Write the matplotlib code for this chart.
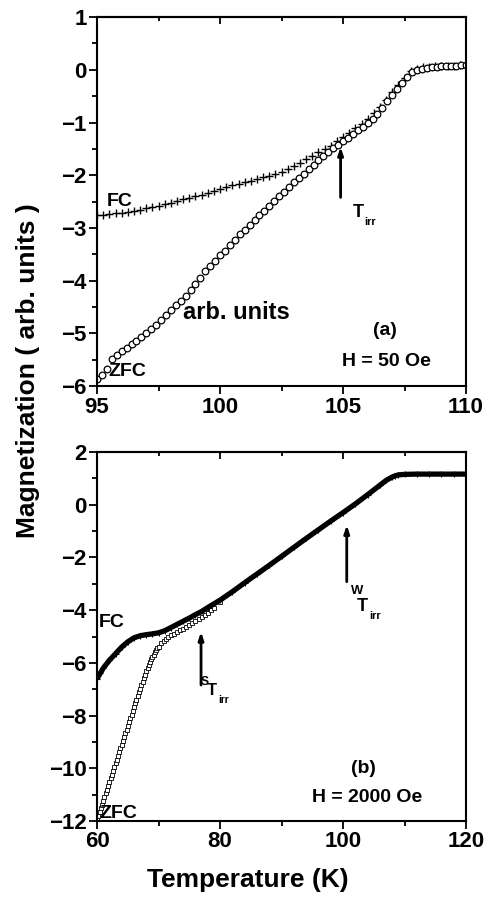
import matplotlib
matplotlib.use("Agg")
import matplotlib.pyplot as plt
from matplotlib.ticker import MultipleLocator

plt.rcParams["font.family"] = ["Liberation Sans", "DejaVu Sans"]
plt.rcParams["font.weight"] = "bold"

# ---------------------------------------------------------------------------
# (a) H = 50 Oe
# ---------------------------------------------------------------------------
t_fc_a = [95.00, 95.25, 95.50, 95.75, 96.00, 96.25, 96.50, 96.75, 97.00, 97.25,
          97.50, 97.75, 98.00, 98.25, 98.50, 98.75, 99.00, 99.25, 99.50, 99.75,
          100.00, 100.25, 100.50, 100.75, 101.00, 101.25, 101.50, 101.75, 102.00, 102.25,
          102.50, 102.75, 103.00, 103.25, 103.50, 103.75, 104.00, 104.25, 104.50, 104.75,
          105.00, 105.25, 105.50, 105.75, 106.00, 106.25, 106.50, 106.75, 107.00, 107.25,
          107.50, 107.75, 108.00, 108.25, 108.50, 108.75, 109.00, 109.25, 109.50, 109.75,
          110.00]
m_fc_a = [-2.76, -2.75, -2.74, -2.72, -2.71, -2.69, -2.67, -2.65, -2.63, -2.61,
          -2.58, -2.55, -2.52, -2.49, -2.46, -2.43, -2.40, -2.37, -2.33, -2.30,
          -2.26, -2.23, -2.19, -2.16, -2.13, -2.10, -2.07, -2.04, -2.01, -1.97,
          -1.93, -1.88, -1.83, -1.77, -1.70, -1.63, -1.56, -1.50, -1.44, -1.36,
          -1.27, -1.20, -1.11, -1.03, -0.94, -0.82, -0.70, -0.57, -0.43, -0.29,
          -0.15, -0.03, 0.02, 0.05, 0.06, 0.07, 0.07, 0.08, 0.08, 0.09,
          0.09]

t_zfc_a = [95.0, 95.2, 95.4, 95.6, 95.8, 96.0, 96.2, 96.4, 96.6, 96.8,
           97.0, 97.2, 97.4, 97.6, 97.8, 98.0, 98.2, 98.4, 98.6, 98.8,
           99.0, 99.2, 99.4, 99.6, 99.8, 100.0, 100.2, 100.4, 100.6, 100.8,
           101.0, 101.2, 101.4, 101.6, 101.8, 102.0, 102.2, 102.4, 102.6, 102.8,
           103.0, 103.2, 103.4, 103.6, 103.8, 104.0, 104.2, 104.4, 104.6, 104.8,
           105.0, 105.2, 105.4, 105.6, 105.8, 106.0, 106.2, 106.4, 106.6, 106.8,
           107.0, 107.2, 107.4, 107.6, 107.8, 108.0, 108.2, 108.4, 108.6, 108.8,
           109.0, 109.2, 109.4, 109.6, 109.8, 110.0]
m_zfc_a = [-5.86, -5.78, -5.68, -5.48, -5.41, -5.34, -5.27, -5.20, -5.14, -5.07,
           -4.99, -4.92, -4.84, -4.74, -4.65, -4.56, -4.47, -4.38, -4.29, -4.18,
           -4.07, -3.94, -3.82, -3.72, -3.62, -3.52, -3.44, -3.33, -3.22, -3.12,
           -3.03, -2.94, -2.85, -2.76, -2.67, -2.58, -2.49, -2.40, -2.31, -2.22,
           -2.13, -2.05, -1.97, -1.89, -1.80, -1.71, -1.63, -1.55, -1.48, -1.42,
           -1.36, -1.29, -1.22, -1.15, -1.08, -1.01, -0.93, -0.83, -0.72, -0.60,
           -0.48, -0.37, -0.26, -0.14, -0.04, 0.00, 0.02, 0.04, 0.05, 0.06,
           0.07, 0.07, 0.08, 0.08, 0.09, 0.10]

# ---------------------------------------------------------------------------
# (b) H = 2000 Oe
# ---------------------------------------------------------------------------
t_fc_b = [60.0, 60.5, 61.0, 62.0, 63.0, 64.0, 65.0, 66.0, 67.0, 68.0,
          69.0, 70.0, 71.0, 72.0, 73.0, 74.0, 75.0, 76.0, 77.0, 78.0,
          80.0, 82.0, 84.0, 86.0, 88.0, 90.0, 92.0, 94.0, 96.0, 98.0,
          100.0, 102.0, 104.0, 106.0, 107.0, 108.0, 108.5, 109.0, 110.0, 112.0,
          114.0, 116.0, 118.0, 120.0]
m_fc_b = [-6.60, -6.40, -6.20, -5.90, -5.65, -5.40, -5.20, -5.05, -4.97, -4.93,
          -4.90, -4.86, -4.78, -4.66, -4.54, -4.42, -4.30, -4.17, -4.05, -3.90,
          -3.62, -3.30, -2.96, -2.63, -2.30, -1.96, -1.62, -1.28, -0.95, -0.62,
          -0.30, 0.03, 0.38, 0.74, 0.92, 1.05, 1.10, 1.13, 1.15, 1.16,
          1.16, 1.16, 1.16, 1.16]

t_zfc_b = [60.0, 60.2, 60.4, 60.6, 60.8, 61.0, 61.2, 61.4, 61.6, 61.8,
           62.0, 62.2, 62.4, 62.6, 62.8, 63.0, 63.2, 63.4, 63.6, 63.8,
           64.0, 64.2, 64.4, 64.6, 64.8, 65.0, 65.2, 65.4, 65.6, 65.8,
           66.0, 66.2, 66.4, 66.6, 66.8, 67.0, 67.2, 67.4, 67.6, 67.8,
           68.0, 68.2, 68.4, 68.6, 68.8, 69.0, 69.2, 69.4, 69.6, 69.8,
           70.0, 70.4, 70.8, 71.2, 71.6, 72.0, 72.5, 73.0, 73.5, 74.0,
           74.5, 75.0, 75.5, 76.0, 76.5, 77.0, 77.5, 78.0, 78.5, 79.0,
           80.0]
m_zfc_b = [-11.95, -11.81, -11.67, -11.52, -11.38, -11.24, -11.10, -10.95, -10.81, -10.67,
           -10.52, -10.38, -10.24, -10.10, -9.95, -9.81, -9.67, -9.53, -9.38, -9.24,
           -9.10, -8.96, -8.81, -8.67, -8.53, -8.39, -8.24, -8.10, -7.96, -7.82,
           -7.67, -7.53, -7.39, -7.25, -7.11, -6.98, -6.84, -6.71, -6.58, -6.45,
           -6.32, -6.20, -6.08, -5.97, -5.87, -5.78, -5.69, -5.60, -5.52, -5.45,
           -5.38, -5.26, -5.16, -5.08, -5.01, -4.95, -4.89, -4.83, -4.76, -4.70,
           -4.63, -4.56, -4.49, -4.42, -4.35, -4.27, -4.19, -4.10, -4.00, -3.90,
           -3.68]

T_IRR_A = 104.9
TS_IRR_B = 76.9
TW_IRR_B = 100.6


def style_axes(ax, xmaj, xmin, ymaj, ymin):
    for sp in ax.spines.values():
        sp.set_linewidth(1.5)
    ax.xaxis.set_major_locator(MultipleLocator(xmaj))
    ax.xaxis.set_minor_locator(MultipleLocator(xmin))
    ax.yaxis.set_major_locator(MultipleLocator(ymaj))
    ax.yaxis.set_minor_locator(MultipleLocator(ymin))
    ax.tick_params(which="both", direction="out", width=1.3, labelsize=16,
                   top=False, right=False)
    ax.tick_params(which="major", length=6, pad=1.5)
    ax.tick_params(which="minor", length=3.5)
    for lab in ax.get_xticklabels() + ax.get_yticklabels():
        lab.set_fontweight("bold")
    # inward ticks on the top spine, no labels
    sec = ax.secondary_xaxis("top")
    sec.xaxis.set_major_locator(MultipleLocator(xmaj))
    sec.xaxis.set_minor_locator(MultipleLocator(xmin))
    sec.tick_params(which="both", direction="in", width=1.3, labeltop=False)
    sec.tick_params(which="major", length=5)
    sec.tick_params(which="minor", length=3)
    sec.spines["top"].set_linewidth(1.5)


def irr_label(ax, x, y, sup=None, size=13, sup_off=(-2, 7)):
    ax.text(x, y, "T", fontsize=size, fontweight="bold", ha="left", va="top")
    ax.annotate("irr", xy=(x, y), xytext=(size * 0.64, -size * 0.72),
                textcoords="offset points", fontsize=size * 0.6,
                fontweight="bold", ha="left", va="top")
    if sup is not None:
        ax.annotate(sup, xy=(x, y), xytext=sup_off, textcoords="offset points",
                    fontsize=size * 0.72, fontweight="bold", ha="right", va="bottom")


def up_arrow(ax, x, y0, y1):
    ax.annotate("", xy=(x, y1), xytext=(x, y0),
                arrowprops=dict(arrowstyle="-|>,head_length=0.45,head_width=0.15",
                                lw=2.0, color="black", shrinkA=0, shrinkB=0))


fig = plt.figure(figsize=(4.88, 8.98), dpi=100)
ax1 = fig.add_axes([0.199, 0.570, 0.756, 0.411])
ax2 = fig.add_axes([0.199, 0.0857, 0.756, 0.411])

# panel (a)
ax1.plot(t_fc_a, m_fc_a, linestyle="none", marker="+", ms=5.5, mew=1.0, color="black")
ax1.plot(t_zfc_a, m_zfc_a, linestyle="none", marker="o", ms=4.8, mew=0.9,
         mfc="white", mec="black")
ax1.set_xlim(95, 110)
ax1.set_ylim(-6, 1)
style_axes(ax1, 5, 2.5, 1, 0.5)

ax1.text(95.4, -2.5, "FC", fontsize=14, fontweight="bold", va="center")
ax1.text(95.45, -5.72, "ZFC", fontsize=14, fontweight="bold", va="center")
ax1.text(98.5, -4.6, "arb. units", fontsize=17, fontweight="bold", va="center")
ax1.text(106.7, -4.94, "(a)", fontsize=14, fontweight="bold", ha="center", va="center")
ax1.text(106.75, -5.53, "H = 50 Oe", fontsize=14, fontweight="bold",
         ha="center", va="center")
up_arrow(ax1, T_IRR_A, -2.42, -1.46)
irr_label(ax1, 105.39, -2.55)

# panel (b)
ax2.plot(t_zfc_b, m_zfc_b, linestyle="none", marker="s", ms=3.0, mew=0.6,
         mfc="white", mec="black", zorder=2)
ax2.plot(t_fc_b, m_fc_b, color="black", lw=3.8, solid_capstyle="butt", zorder=3)
ax2.plot(t_fc_b, m_fc_b, linestyle="none", marker="+", ms=4.5, mew=0.8,
         color="black", zorder=3)
ax2.set_xlim(60, 120)
ax2.set_ylim(-12, 2)
style_axes(ax2, 20, 10, 2, 1)

ax2.text(60.2, -4.45, "FC", fontsize=14, fontweight="bold", va="center")
ax2.text(60.3, -11.72, "ZFC", fontsize=14, fontweight="bold", va="center")
ax2.text(103.3, -10.0, "(b)", fontsize=14, fontweight="bold", ha="center", va="center")
ax2.text(103.85, -11.1, "H = 2000 Oe", fontsize=14, fontweight="bold",
         ha="center", va="center")
up_arrow(ax2, TS_IRR_B, -6.84, -4.82)
up_arrow(ax2, TW_IRR_B, -2.92, -0.77)
irr_label(ax2, 77.9, -6.75, sup="S", size=12, sup_off=(1, -4))
irr_label(ax2, 102.3, -3.55, sup="W", size=13, sup_off=(4, 1))

fig.text(0.057, 0.587, "Magnetization ( arb. units )", rotation=90, fontsize=19,
         fontweight="bold", ha="center", va="center")
fig.text(0.508, 0.020, "Temperature (K)", fontsize=19, fontweight="bold",
         ha="center", va="center")

fig.savefig("out.png", dpi=100)
